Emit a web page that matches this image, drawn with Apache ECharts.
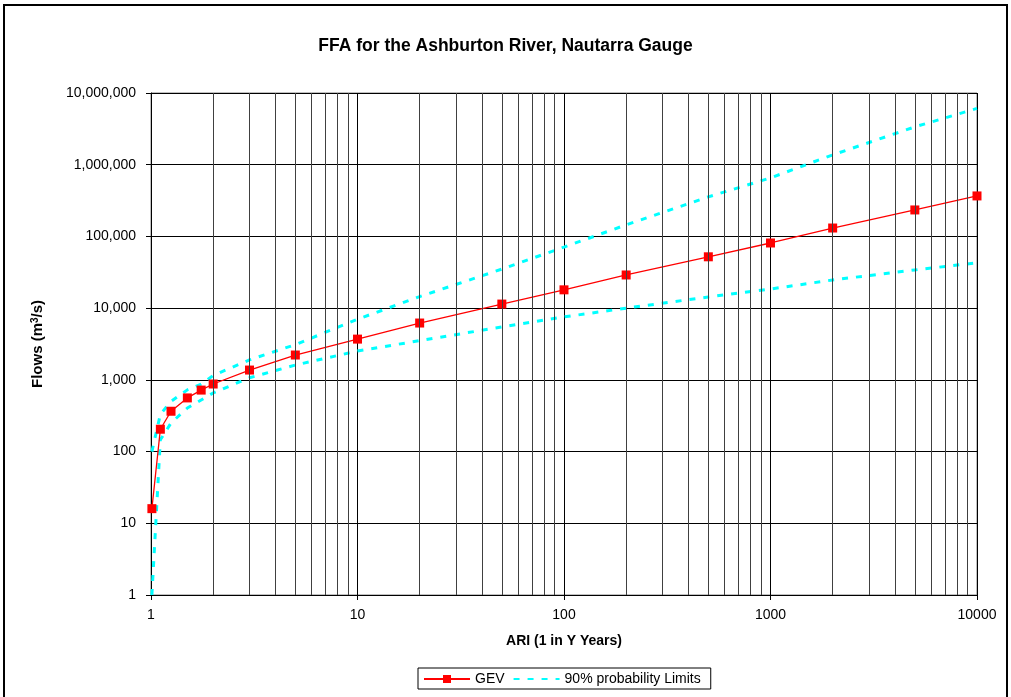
<!DOCTYPE html>
<html>
<head>
<meta charset="utf-8">
<script src="https://cdn.jsdelivr.net/npm/echarts@6/dist/echarts.min.js"></script>
<style>html,body{margin:0;padding:0;background:#fff}#c{width:1011px;height:697px}</style>
</head>
<body>
<div id="c"></div>
<script>
const titleText = 'FFA for the Ashburton River, Nautarra Gauge';
const xName = 'ARI (1 in Y Years)';
const yName = 'Flows (m{sup|3}/s)';
const ari   = [1.01, 1.11, 1.25, 1.5, 1.75, 2, 3, 5, 10, 20, 50, 100, 200, 500, 1000, 2000, 5000, 10000];
const gev   = [16, 205, 365, 560, 720, 875, 1370, 2220, 3700, 6200, 11400, 18000, 29000, 52000, 81000, 131000, 234000, 367000];
const upper = [100, 330, 500, 725, 870, 1150, 1900, 3100, 7000, 14500, 35000, 71000, 145000, 356000, 655000, 1370000, 3370000, 6100000];
const lower = [1, 146, 250, 405, 525, 656, 1070, 1610, 2520, 3520, 5470, 7540, 10000, 14300, 18500, 24700, 34100, 42900];
const minorX = [2,3,4,5,6,7,8,9,20,30,40,50,60,70,80,90,200,300,400,500,600,700,800,900,2000,3000,4000,5000,6000,7000,8000,9000];

const FONT = '"Liberation Sans", Arial, sans-serif';
const NOSYM = 'path://M0 0L10 10';
const chart = echarts.init(document.getElementById('c'), null, {renderer: 'canvas'});
chart.setOption({
  animation: false,
  backgroundColor: '#fff',
  textStyle: {fontFamily: FONT},
  title: {
    text: titleText, left: 'center', top: 32,
    textStyle: {fontFamily: FONT, fontSize: 17.5, fontWeight: 'bold', color: '#000'}
  },
  graphic: [{
    type: 'rect', shape: {x: 4, y: 5, width: 1003, height: 710},
    style: {fill: 'none', stroke: '#000', lineWidth: 2}, silent: true, z: 100
  }],
  grid: {left: 151, right: 34, top: 93, bottom: 102, show: true, borderColor: '#808080', borderWidth: 1, backgroundColor: '#fff'},
  legend: {
    left: 418, top: 668, itemWidth: 46, itemHeight: 10, itemGap: 8,
    borderColor: '#000', borderWidth: 1, padding: [4, 10, 3, 5], borderRadius: 0,
    textStyle: {fontFamily: FONT, fontSize: 14, color: '#000'},
    data: ['GEV', '90% probability Limits']
  },
  xAxis: {
    type: 'log', logBase: 10, min: 1, max: 10000, interval: 1,
    name: xName, nameLocation: 'middle', nameGap: 39,
    nameTextStyle: {fontFamily: FONT, fontSize: 14, fontWeight: 'bold', color: '#000'},
    axisLine: {lineStyle: {color: '#000'}},
    axisTick: {show: true, length: 5, inside: false, lineStyle: {color: '#000'}},
    axisLabel: {fontFamily: FONT, fontSize: 14, color: '#000', margin: 13, formatter: v => String(Math.round(v))},
    splitLine: {show: true, lineStyle: {color: '#000', width: 1}}
  },
  yAxis: {
    type: 'log', logBase: 10, min: 1, max: 10000000, interval: 1,
    name: yName, nameLocation: 'middle', nameGap: 106,
    nameTextStyle: {
      fontFamily: FONT, fontSize: 15, fontWeight: 'bold', color: '#000',
      rich: {sup: {fontFamily: FONT, fontSize: 10, fontWeight: 'bold', color: '#000', verticalAlign: 'top'}}
    },
    axisLine: {lineStyle: {color: '#000'}},
    axisTick: {show: true, length: 5, lineStyle: {color: '#000'}},
    axisLabel: {fontFamily: FONT, fontSize: 14, color: '#000', margin: 15, formatter: v => Math.round(v).toLocaleString('en-US')},
    splitLine: {show: true, lineStyle: {color: '#000', width: 1}}
  },
  series: [
    {
      name: 'grid-minor', type: 'line', data: [], silent: true,
      markLine: {
        silent: true, symbol: ['none', 'none'], label: {show: false},
        lineStyle: {color: '#404040', width: 1, type: 'solid'},
        emphasis: {disabled: true},
        data: minorX.map(v => ({xAxis: v}))
      }
    },
    {
      name: '90% probability Limits', type: 'line', smooth: false,
      data: ari.map((x, i) => [x, upper[i]]), showSymbol: false, symbol: NOSYM,
      lineStyle: {color: '#00FFFF', width: 3, type: [6, 8]},
      itemStyle: {color: '#00FFFF', borderWidth: 0, borderColor: 'transparent'}, z: 3
    },
    {
      name: '90% probability Limits', type: 'line', smooth: false,
      data: ari.map((x, i) => [x, lower[i]]), showSymbol: false, symbol: NOSYM,
      lineStyle: {color: '#00FFFF', width: 3, type: [6, 8]},
      itemStyle: {color: '#00FFFF', borderWidth: 0, borderColor: 'transparent'}, z: 3
    },
    {
      name: 'GEV', type: 'line', smooth: false,
      data: ari.map((x, i) => [x, gev[i]]), symbol: 'rect', symbolSize: 9,
      lineStyle: {color: '#FF0000', width: 1.3}, itemStyle: {color: '#FF0000'}, z: 4
    }
  ]
});
</script>
</body>
</html>
